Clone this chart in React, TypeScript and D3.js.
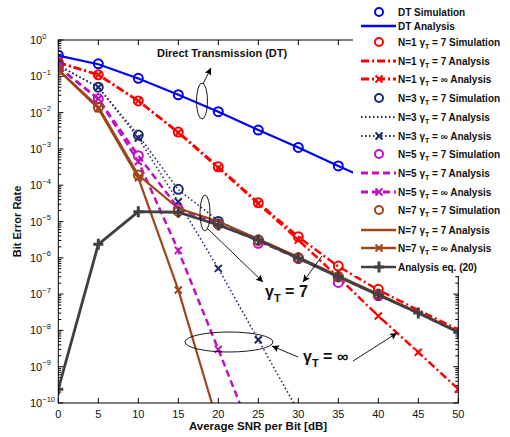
import React from "react";
import * as d3 from "d3";

const snr = [0, 5, 10, 15, 20, 25, 30, 35, 40, 45, 50];
const xTicks = [0, 5, 10, 15, 20, 25, 30, 35, 40, 45, 50];
const yExps = [0, -1, -2, -3, -4, -5, -6, -7, -8, -9, -10];

const dtSim = [0.38, 0.22, 0.088, 0.031, 0.0106, 0.0033, 0.0011, 3.4e-4, 1.1e-4];
const dtAna = [0.37, 0.215, 0.087, 0.031, 0.0105, 0.0033, 0.0011, 3.4e-4, 1.1e-4, 3.5e-5, 1.1e-5];

const n1Sim = [0.24, 0.11, 0.021, 0.0029, 3.2e-4, 3.3e-5, 3.8e-6, 5.9e-7, 1.35e-7];
const n1Ana = [0.24, 0.11, 0.021, 0.0029, 3.2e-4, 3.3e-5, 3.8e-6, 5.8e-7, 1.3e-7, 3.6e-8, 1.05e-8];
const n1Inf = [0.24, 0.11, 0.021, 0.0028, 3.0e-4, 3.1e-5, 3.1e-6, 2.9e-7, 2.5e-8, 2.5e-9, 2.4e-10];

const n3Sim = [0.2, 0.05, 0.0024, 7.7e-5, 1.0e-5, 3.1e-6, 1.0e-6, 3.0e-7, 9.8e-8];
const n3Ana = [0.2, 0.05, 0.0024, 7.5e-5, 1.05e-5, 3.2e-6, 1.0e-6, 3.1e-7, 9.8e-8, 3.1e-8, 9.2e-9];
const n3Inf = [0.2, 0.05, 0.002, 3.5e-5, 5.1e-7, 5.5e-9, 5.9e-11];

const n5Sim = [0.18, 0.024, 6.5e-4, 2.2e-5, 8.5e-6, 2.5e-6, 9.5e-7, 2.1e-7, 9.0e-8];
const n5Ana = [0.18, 0.024, 6.5e-4, 2.3e-5, 8.5e-6, 2.9e-6, 9.6e-7, 3.0e-7, 9.5e-8, 3.0e-8, 9.0e-9];
const n5Inf = [0.18, 0.024, 4.5e-4, 1.6e-6, 3.0e-9, 5.0e-12];

const n7Sim = [0.15, 0.014, 1.9e-4, 1.9e-5, 8.5e-6, 3.0e-6, 1.0e-6, 3.0e-7, 1.0e-7];
const n7Ana = [0.15, 0.0145, 1.9e-4, 2.3e-5, 1.0e-5, 3.3e-6, 1.05e-6, 3.2e-7, 1.0e-7, 3.1e-8, 9.3e-9];
const n7Inf = [0.15, 0.013, 1.6e-4, 1.3e-7, 2.5e-11];

const eq20 = [2.4e-10, 2.35e-6, 1.86e-5, 1.8e-5, 8.0e-6, 3.1e-6, 9.7e-7, 3.0e-7, 9.5e-8, 3.0e-8, 8.9e-9];

const BLUE = "#0000ff";
const RED = "#ff0000";
const NAVY = "#1d2b6e";
const MAG = "#c010c0";
const BROWN = "#a0441c";
const GRAY = "#404040";

const legendItems = [
  { pre: "DT Simulation", color: BLUE, line: null, marker: "o" },
  { pre: "DT Analysis", color: BLUE, line: "", marker: null },
  { pre: "N=1 ", sub: true, post: " = 7 Simulation", color: RED, line: null, marker: "o" },
  { pre: "N=1 ", sub: true, post: " = 7 Analysis", color: RED, line: "dashdot", marker: null },
  { pre: "N=1 ", sub: true, post: " = \u221e Analysis", color: RED, line: "dashdot", marker: "x" },
  { pre: "N=3 ", sub: true, post: " = 7 Simulation", color: NAVY, line: null, marker: "o" },
  { pre: "N=3 ", sub: true, post: " = 7 Analysis", color: NAVY, line: "dot", marker: null },
  { pre: "N=3 ", sub: true, post: " = \u221e Analysis", color: NAVY, line: "dot", marker: "x" },
  { pre: "N=5 ", sub: true, post: " = 7 Simulation", color: MAG, line: null, marker: "o" },
  { pre: "N=5 ", sub: true, post: " = 7 Analysis", color: MAG, line: "dash", marker: null },
  { pre: "N=5 ", sub: true, post: " = \u221e Analysis", color: MAG, line: "dash", marker: "x" },
  { pre: "N=7 ", sub: true, post: " = 7 Simulation", color: BROWN, line: null, marker: "o" },
  { pre: "N=7 ", sub: true, post: " = 7 Analysis", color: BROWN, line: "", marker: null },
  { pre: "N=7 ", sub: true, post: " = \u221e Analysis", color: BROWN, line: "", marker: "x" },
  { pre: "Analysis  eq. (20)", color: GRAY, line: "", marker: "+" },
];
const legendRows = [12, 26, 42, 61, 79, 98, 117, 136, 154, 173, 192, 210, 230, 248, 267];

const styles: Record<string, { dash?: string; w: number }> = {
  "": { w: 2.2 },
  dashdot: { dash: "8 3 2 3", w: 2.5 },
  dot: { dash: "1.5 2.5", w: 1.6 },
  dash: { dash: "7 4", w: 2.5 },
};

const FONT = "'Liberation Sans', Arial, sans-serif";

function Marker({ kind, x, y, color, r = 4.5, sw = 2 }: any) {
  if (kind === "o") return <circle cx={x} cy={y} r={r} fill="none" stroke={color} strokeWidth={sw} />;
  if (kind === "x")
    return (
      <path d={`M${x - 3.5},${y - 3.5}L${x + 3.5},${y + 3.5}M${x - 3.5},${y + 3.5}L${x + 3.5},${y - 3.5}`} stroke={color} strokeWidth={2} />
    );
  if (kind === "+")
    return <path d={`M${x - 5},${y}L${x + 5},${y}M${x},${y - 5.5}L${x},${y + 5.5}`} stroke={color} strokeWidth={3} />;
  return null;
}

export default function App() {
  const L = 58.3, R = 458.3, T = 40, B = 403;
  const x = d3.scaleLinear().domain([0, 50]).range([L, R]);
  const y = d3.scaleLog().domain([1e-10, 1]).range([B, T]);

  const line = (vals: number[]) =>
    d3.line<number>().x((_, i) => x(snr[i])).y((v) => y(v))(vals) || "";

  const series = [
    { vals: dtAna, color: BLUE, s: "" },
    { vals: n1Ana, color: RED, s: "dashdot" },
    { vals: n1Inf, color: RED, s: "dashdot" },
    { vals: n3Ana, color: NAVY, s: "dot" },
    { vals: n3Inf, color: NAVY, s: "dot" },
    { vals: n5Ana, color: MAG, s: "dash" },
    { vals: n5Inf, color: MAG, s: "dash" },
    { vals: n7Ana, color: BROWN, s: "" },
    { vals: n7Inf, color: BROWN, s: "" },
  ];
  const markerSets = [
    { vals: dtSim, color: BLUE, k: "o" },
    { vals: n1Sim, color: RED, k: "o" },
    { vals: n1Inf, color: RED, k: "x" },
    { vals: n3Sim, color: NAVY, k: "o" },
    { vals: n3Inf, color: NAVY, k: "x" },
    { vals: n5Sim, color: MAG, k: "o" },
    { vals: n5Inf, color: MAG, k: "x" },
    { vals: n7Sim, color: BROWN, k: "o" },
    { vals: n7Inf, color: BROWN, k: "x" },
  ];

  const minor: number[] = [];
  for (let e = -10; e < 0; e++) for (let m = 2; m <= 9; m++) minor.push(m * Math.pow(10, e));

  return (
    <svg width={510} height={437} style={{ position: "absolute", left: 0, top: 0, background: "#fff" }} fontFamily={FONT}>
      <defs>
        <clipPath id="pc">
          <rect x={L} y={T} width={R - L} height={B - T} />
        </clipPath>
        <marker id="ah" viewBox="0 0 10 10" refX="10" refY="5" markerWidth="9" markerHeight="7" markerUnits="userSpaceOnUse" orient="auto">
          <path d="M0,0L10,5L0,10L2,5Z" fill="#000" />
        </marker>
      </defs>
      <rect x={0} y={0} width={510} height={437} fill="#fff" />

      {/* ticks */}
      <g stroke="#000" strokeWidth={1}>
        {xTicks.map((t) => (
          <g key={"xt" + t}>
            <line x1={x(t)} x2={x(t)} y1={B} y2={B - 5} />
            <line x1={x(t)} x2={x(t)} y1={T} y2={T + 5} />
          </g>
        ))}
        {yExps.map((e) => (
          <g key={"yt" + e}>
            <line x1={L} x2={L + 5} y1={y(Math.pow(10, e))} y2={y(Math.pow(10, e))} />
            <line x1={R} x2={R - 5} y1={y(Math.pow(10, e))} y2={y(Math.pow(10, e))} />
          </g>
        ))}
        {minor.map((v, i) => (
          <g key={"ym" + i}>
            <line x1={L} x2={L + 3} y1={y(v)} y2={y(v)} />
            <line x1={R} x2={R - 3} y1={y(v)} y2={y(v)} />
          </g>
        ))}
      </g>

      {/* lines */}
      <g clipPath="url(#pc)" fill="none">
        {series.map((sr, i) => (
          <path key={"l" + i} d={line(sr.vals)} stroke={sr.color} strokeWidth={styles[sr.s].w} strokeDasharray={styles[sr.s].dash} />
        ))}
        {markerSets.map((ms, i) =>
          ms.vals.map((v, j) => <Marker key={"m" + i + "-" + j} kind={ms.k} x={x(snr[j])} y={y(v)} color={ms.color} />)
        )}
        <path d={line(eq20)} stroke={GRAY} strokeWidth={2.8} />
        {eq20.map((v, j) => (
          <Marker key={"g" + j} kind="+" x={x(snr[j])} y={y(v)} color={GRAY} />
        ))}
      </g>

      {/* axes box */}
      <rect x={L} y={T} width={R - L} height={B - T} fill="none" stroke="#000" strokeWidth={1} />

      {/* tick labels */}
      <g fontSize={11} fill="#111">
        {xTicks.map((t) => (
          <text key={"xl" + t} x={x(t)} y={417.5} textAnchor="middle">
            {t}
          </text>
        ))}
        {yExps.map((e) => (
          <text key={"yl" + e} x={30} y={y(Math.pow(10, e)) + 4}>
            10
            <tspan fontSize={7.5} dy={-5.5}>
              {e === 0 ? "0" : "\u2212" + -e}
            </tspan>
          </text>
        ))}
      </g>
      <text x={258} y={430} textAnchor="middle" fontSize={11.5} fontWeight="bold" fill="#111">
        Average SNR per Bit [dB]
      </text>
      <text transform={`translate(21,${(T + B) / 2}) rotate(-90)`} textAnchor="middle" fontSize={11} fontWeight="bold" fill="#111">
        Bit Error Rate
      </text>

      {/* annotations */}
      <g fill="none" stroke="#000" strokeWidth={0.9}>
        <ellipse cx={202} cy={101} rx={5.5} ry={18} />
        <line x1={203} y1={84} x2={211} y2={68} markerEnd="url(#ah)" />
        <ellipse cx={205} cy={213} rx={5} ry={18} />
        <line x1={207} y1={228} x2={263} y2={282} markerEnd="url(#ah)" />
        <line x1={322} y1={256} x2={303} y2={282} markerEnd="url(#ah)" />
        <ellipse cx={229} cy={342} rx={44} ry={10} />
        <line x1={298} y1={357} x2={272} y2={346} markerEnd="url(#ah)" />
        <line x1={353} y1={361} x2={397} y2={333} markerEnd="url(#ah)" />
      </g>
      <text x={157} y={57} fontSize={11} fontWeight="bold" fill="#111">
        Direct Transmission (DT)
      </text>
      <text x={265} y={297} fontSize={16} fontWeight="bold" fill="#111">
        {"\u03b3"}
        <tspan fontSize={11} dy={5}>T</tspan>
        <tspan dy={-5}>{" = 7"}</tspan>
      </text>
      <text x={303} y={362} fontSize={16} fontWeight="bold" fill="#111">
        {"\u03b3"}
        <tspan fontSize={11} dy={5}>T</tspan>
        <tspan dy={-5}>{" = \u221e"}</tspan>
      </text>

      {/* legend */}
      <rect x={353} y={0} width={157} height={276} fill="#fff" />
      {legendItems.map((it, i) => {
        const cy = legendRows[i];
        const st = it.line !== null ? styles[it.line] : null;
        return (
          <g key={"lg" + i}>
            {st && <line x1={361} x2={396} y1={cy} y2={cy} stroke={it.color} strokeWidth={st.w + 0.3} strokeDasharray={st.dash} />}
            {it.marker && <Marker kind={it.marker} x={379} y={cy} color={it.color} r={4} />}
            <text x={398} y={cy + 3.5} fontSize={10} fontWeight="bold" fill="#111">
              {it.pre}
              {it.sub && (
                <>
                  <tspan>{"\u03b3"}</tspan>
                  <tspan fontSize={7} dy={3}>T</tspan>
                  <tspan dy={-3}>{it.post}</tspan>
                </>
              )}
            </text>
          </g>
        );
      })}
    </svg>
  );
}
